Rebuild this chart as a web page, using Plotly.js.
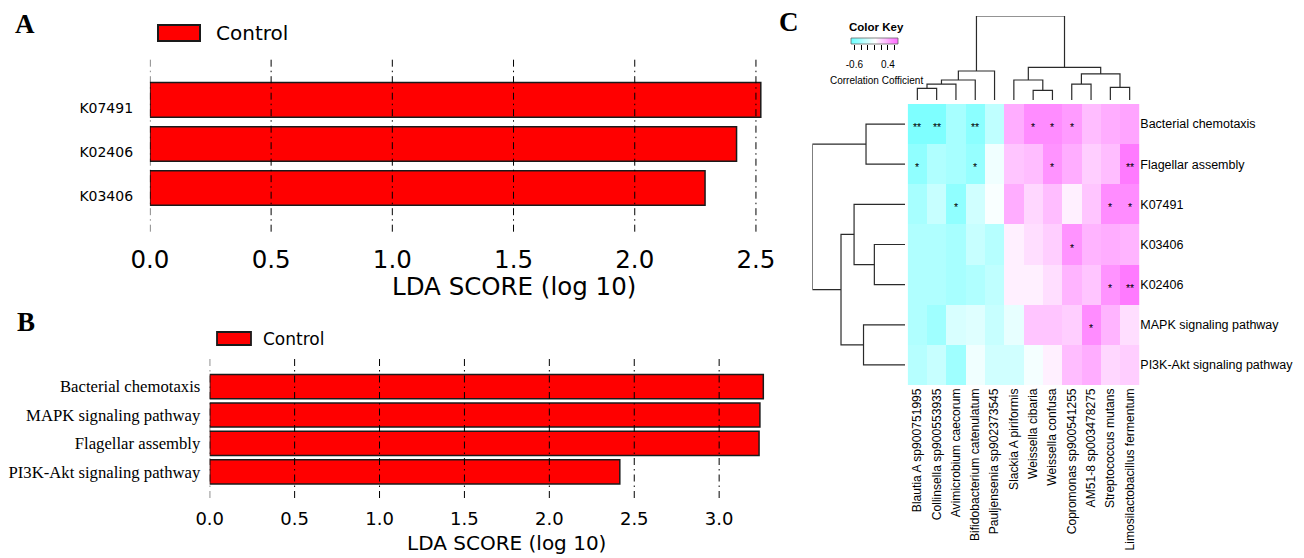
<!DOCTYPE html>
<html><head><meta charset="utf-8">
<script src="https://cdn.plot.ly/plotly-3.0.1.min.js"></script>
<style>html,body{margin:0;padding:0;background:#fff}#chart{width:1304px;height:558px}</style>
</head><body><div id="chart"></div>
<script>
// ---------- Panel A data ----------
const koLabels = ['K07491', 'K02406', 'K03406'];
const koLDA = [2.52, 2.42, 2.29];
const ldaTicksA = [0, 0.5, 1, 1.5, 2, 2.5];
// ---------- Panel B data ----------
const pathLabels = ['Bacterial chemotaxis', 'MAPK signaling pathway', 'Flagellar assembly', 'PI3K-Akt signaling pathway'];
const pathLDA = [3.26, 3.24, 3.235, 2.415];
const ldaTicksB = [0, 0.5, 1, 1.5, 2, 2.5, 3];
const groupName = 'Control';
// ---------- Panel C data ----------
const heatRows = ['Bacterial chemotaxis', 'Flagellar assembly', 'K07491', 'K03406', 'K02406', 'MAPK signaling pathway', 'PI3K-Akt signaling pathway'];
const heatCols = ['Blautia A sp900751995', 'Collinsella sp900553935', 'Avimicrobium caecorum', 'Bifidobacterium catenulatum', 'Pauljensenia sp902373545', 'Slackia A piriformis', 'Weissella cibaria', 'Weissella confusa', 'Copromonas sp900541255', 'AM51-8 sp003478275', 'Streptococcus mutans', 'Limosilactobacillus fermentum'];
const corrBact = [-0.60, -0.60, -0.41, -0.54, -0.30, 0.37, 0.52, 0.52, 0.45, 0.30, 0.37, 0.41];
const corrFlag = [-0.52, -0.37, -0.41, -0.49, -0.07, 0.26, 0.30, 0.49, 0.37, 0.22, 0.30, 0.60];
const corrK07491 = [-0.41, -0.26, -0.52, -0.22, -0.03, 0.37, 0.18, 0.30, 0.07, 0.26, 0.52, 0.52];
const corrK03406 = [-0.37, -0.37, -0.41, -0.26, -0.34, 0.07, 0.15, 0.22, 0.49, 0.34, 0.37, 0.34];
const corrK02406 = [-0.37, -0.37, -0.41, -0.37, -0.30, 0.07, 0.07, 0.15, 0.34, 0.26, 0.49, 0.60];
const corrMAPK = [-0.37, -0.45, -0.18, -0.15, -0.26, -0.11, 0.26, 0.26, 0.22, 0.52, 0.34, 0.15];
const corrPI3K = [-0.34, -0.26, -0.45, -0.07, -0.22, -0.22, -0.05, 0.07, 0.30, 0.37, 0.18, 0.22];
const sigBact = ['**', '**', '', '**', '', '', '*', '*', '*', '', '', ''];
const sigFlag = ['*', '', '', '*', '', '', '', '*', '', '', '', '**'];
const sigK07491 = ['', '', '*', '', '', '', '', '', '', '', '*', '*'];
const sigK03406 = ['', '', '', '', '', '', '', '', '*', '', '', ''];
const sigK02406 = ['', '', '', '', '', '', '', '', '', '', '*', '**'];
const sigMAPK = ['', '', '', '', '', '', '', '', '', '*', '', ''];
const sigPI3K = ['', '', '', '', '', '', '', '', '', '', '', ''];
// hclust-style merges (negative = leaf in display order, positive = earlier merge)
const colMerge = [[-1, -2], [1, -3], [2, -4], [3, -5], [-7, -8], [-6, 5], [-9, -10], [-11, -12], [7, 8], [6, 9], [4, 10]];
const colHeight = [0.139, 0.190, 0.238, 0.345, 0.115, 0.238, 0.190, 0.151, 0.310, 0.389, 1.0];
const rowMerge = [[-1, -2], [-4, -5], [-3, 2], [-6, -7], [3, 4], [1, 5]];
const rowHeight = [0.421, 0.331, 0.550, 0.448, 0.691, 1.0];
const keySteps = [-0.7, -0.6, -0.5, -0.4, -0.3, -0.2, -0.1, 0, 0.1, 0.2, 0.3, 0.4, 0.5, 0.6, 0.7];
const keyTicks = [-0.6, -0.4, -0.2, 0, 0.2, 0.4, 0.6];
const keyTickText = ['-0.6', '', '', '', '', '0.4', ''];

const corr = [corrBact, corrFlag, corrK07491, corrK03406, corrK02406, corrMAPK, corrPI3K];
const sig = [sigBact, sigFlag, sigK07491, sigK03406, sigK02406, sigMAPK, sigPI3K];

// ---------- helpers ----------
const W = 1304, H = 558;
const px = v => v / W;
const py = v => 1 - v / H;
const DV = 'DejaVu Sans, Verdana, sans-serif';
const AR = 'Liberation Sans, Arial, sans-serif';
const TR = 'Liberation Serif, Times New Roman, serif';
const cscale = [[0, 'rgb(105,255,255)'], [0.5, 'rgb(255,255,255)'], [1, 'rgb(255,100,255)']];

function dendro(merge, heights, sideways) {
  const pos = [], hgt = [], xs = [], ys = [];
  const get = k => k < 0 ? [-k - 1, 0] : [pos[k - 1], hgt[k - 1]];
  merge.forEach((m, i) => {
    const [pa, ha] = get(m[0]);
    const [pb, hb] = get(m[1]);
    const h = heights[i];
    const P = [pa, pa, pb, pb], Hh = [ha, h, h, hb];
    if (sideways) { xs.push(...Hh, null); ys.push(...P, null); }
    else { xs.push(...P, null); ys.push(...Hh, null); }
    pos.push((pa + pb) / 2); hgt.push(h);
  });
  return { xs, ys };
}
const colD = dendro(colMerge, colHeight, false);
const rowD = dendro(rowMerge, rowHeight, true);

// ---------- traces ----------
const traces = [
  { type: 'bar', orientation: 'h', x: koLDA, y: koLabels, name: groupName, width: 0.785,
    marker: { color: '#FF0000', line: { color: '#1a1a1a', width: 1.5 } }, xaxis: 'x', yaxis: 'y', hoverinfo: 'x+y' },
  { type: 'bar', orientation: 'h', x: pathLDA, y: pathLabels, name: groupName, width: 0.85,
    marker: { color: '#FF0000', line: { color: '#1a1a1a', width: 1.5 } }, xaxis: 'x2', yaxis: 'y2', hoverinfo: 'x+y' },
  { type: 'heatmap', z: corr, x: heatCols, y: heatRows, colorscale: cscale, zmin: -0.7, zmax: 0.7,
    showscale: false, xaxis: 'x3', yaxis: 'y3' },
  { type: 'scatter', mode: 'lines', x: colD.xs, y: colD.ys, line: { color: '#2a2a2a', width: 1.2 },
    xaxis: 'x4', yaxis: 'y4', hoverinfo: 'skip' },
  { type: 'scatter', mode: 'lines', x: rowD.xs, y: rowD.ys, line: { color: '#2a2a2a', width: 1.2 },
    xaxis: 'x5', yaxis: 'y5', hoverinfo: 'skip' },
  { type: 'heatmap', z: [keySteps], x: keySteps, y: [0], colorscale: cscale, zmin: -0.7, zmax: 0.7,
    zsmooth: 'best', showscale: false, xaxis: 'x6', yaxis: 'y6', hoverinfo: 'skip' }
];

// ---------- shapes (dash-dot grid above bars, legend keys) ----------
const gridDash = '7px,4px,1.5px,4px';
const shapes = [];
ldaTicksA.forEach(v => shapes.push({ type: 'line', xref: 'x', yref: 'y domain', x0: v, x1: v, y0: 0, y1: 1,
  line: { color: '#000', width: 1, dash: gridDash }, layer: 'above' }));
ldaTicksB.forEach(v => shapes.push({ type: 'line', xref: 'x2', yref: 'y2 domain', x0: v, x1: v, y0: 0, y1: 1,
  line: { color: '#000', width: 1, dash: gridDash }, layer: 'above' }));
shapes.push({ type: 'rect', xref: 'paper', yref: 'paper', x0: px(158), x1: px(200), y0: py(41), y1: py(25),
  fillcolor: '#FF0000', line: { color: '#1a1a1a', width: 2 } });
shapes.push({ type: 'rect', xref: 'paper', yref: 'paper', x0: px(217), x1: px(251), y0: py(345), y1: py(332),
  fillcolor: '#FF0000', line: { color: '#1a1a1a', width: 1.8 } });
shapes.push({ type: 'rect', xref: 'x6 domain', yref: 'y6 domain', x0: 0, x1: 1, y0: 0, y1: 1,
  line: { color: '#666', width: 0.8 } });

// ---------- annotations ----------
const ann = [];
const txt = (t, x, y, size, family, opts) => ann.push(Object.assign({ text: t, xref: 'paper', yref: 'paper',
  x: px(x), y: py(y), showarrow: false, font: { size, family, color: '#000' }, xanchor: 'center', yanchor: 'middle' }, opts || {}));
txt('<b>A</b>', 25, 24, 27, TR);
txt('<b>B</b>', 26, 322, 27, TR);
txt('<b>C</b>', 789, 22, 27, TR);
txt(groupName, 214, 33, 20, DV, { xanchor: 'left' });
txt(groupName, 261, 338.5, 17, DV, { xanchor: 'left' });
txt('LDA SCORE (log 10)', 514, 286, 24.5, DV);
txt('LDA SCORE (log 10)', 506, 543, 20, DV);
txt('<b>Color Key</b>', 877, 26.5, 11.5, AR);
txt('Correlation Cofficient', 877, 81, 10, AR);
sig.forEach((row, r) => row.forEach((s, c) => {
  if (s) ann.push({ text: s, xref: 'x3', yref: 'y3', x: heatCols[c], y: heatRows[r], showarrow: false,
    yshift: -3, font: { size: 10.5, family: AR, color: '#000' } });
}));

const noAx = { visible: false, showgrid: false, zeroline: false, fixedrange: true };
const layout = {
  width: W, height: H, margin: { l: 0, r: 0, t: 0, b: 0 }, showlegend: false,
  paper_bgcolor: '#fff', plot_bgcolor: 'rgba(0,0,0,0)',
  xaxis: { domain: [px(149.9), px(770.5)], range: [0, 2.56], tickvals: ldaTicksA, tickformat: '.1f',
    showgrid: false, zeroline: false, showline: false, ticks: 'outside', ticklen: 6, tickcolor: 'rgba(0,0,0,0)',
    tickfont: { size: 24.5, family: DV, color: '#000' }, anchor: 'y' },
  yaxis: { domain: [py(231.7), py(56.7)], type: 'category', categoryorder: 'array', categoryarray: koLabels,
    range: [2.99, -0.98], showgrid: false, zeroline: false, showline: false, ticks: 'outside', ticklen: 13,
    tickcolor: 'rgba(0,0,0,0)', ticklabelshift: -8, tickfont: { size: 14, family: DV, color: '#000' }, anchor: 'x' },
  xaxis2: { domain: [px(209.7), px(770.1)], range: [0, 3.3], tickvals: ldaTicksB, tickformat: '.1f',
    showgrid: false, zeroline: false, showline: false, ticks: 'outside', ticklen: 4, tickcolor: 'rgba(0,0,0,0)',
    tickfont: { size: 18, family: DV, color: '#000' }, anchor: 'y2' },
  yaxis2: { domain: [py(498), py(357)], type: 'category', categoryorder: 'array', categoryarray: pathLabels,
    range: [3.92, -1.04], showgrid: false, zeroline: false, showline: false, ticks: 'outside', ticklen: 5,
    tickcolor: 'rgba(0,0,0,0)', tickfont: { size: 16.7, family: TR, color: '#000' }, anchor: 'x2' },
  xaxis3: { domain: [px(907.7), px(1139.3)], type: 'category', categoryorder: 'array', categoryarray: heatCols,
    range: [-0.5, 11.5], tickangle: -90, showgrid: false, zeroline: false, showline: false, ticks: '',
    tickfont: { size: 12.1, family: AR, color: '#000' }, anchor: 'y3' },
  yaxis3: { domain: [py(385), py(104)], type: 'category', categoryorder: 'array', categoryarray: heatRows,
    range: [6.5, -0.5], side: 'right', showgrid: false, zeroline: false, showline: false, ticks: '',
    tickfont: { size: 12.5, family: AR, color: '#000' }, anchor: 'x3' },
  xaxis4: Object.assign({ domain: [px(907.7), px(1139.3)], range: [-0.5, 11.5], anchor: 'y4' }, noAx),
  yaxis4: Object.assign({ domain: [py(100), py(16)], range: [0, 1], anchor: 'x4' }, noAx),
  xaxis5: Object.assign({ domain: [px(812.4), px(905)], range: [1, 0], anchor: 'y5' }, noAx),
  yaxis5: Object.assign({ domain: [py(385), py(104)], range: [6.5, -0.5], anchor: 'x5' }, noAx),
  xaxis6: { domain: [px(851), px(898)], range: [-0.7, 0.7], tickvals: keyTicks, ticktext: keyTickText,
    ticks: 'outside', ticklen: 5, tickwidth: 1, tickcolor: '#000', ticklabelstandoff: 6,
    tickfont: { size: 10, family: AR, color: '#000' }, showgrid: false, zeroline: false, showline: false, anchor: 'y6' },
  yaxis6: Object.assign({ domain: [py(44), py(38)], range: [-0.5, 0.5], anchor: 'x6' }, noAx),
  shapes: shapes,
  annotations: ann
};
Plotly.newPlot('chart', traces, layout, { displayModeBar: false, staticPlot: true });
</script>
</body></html>
